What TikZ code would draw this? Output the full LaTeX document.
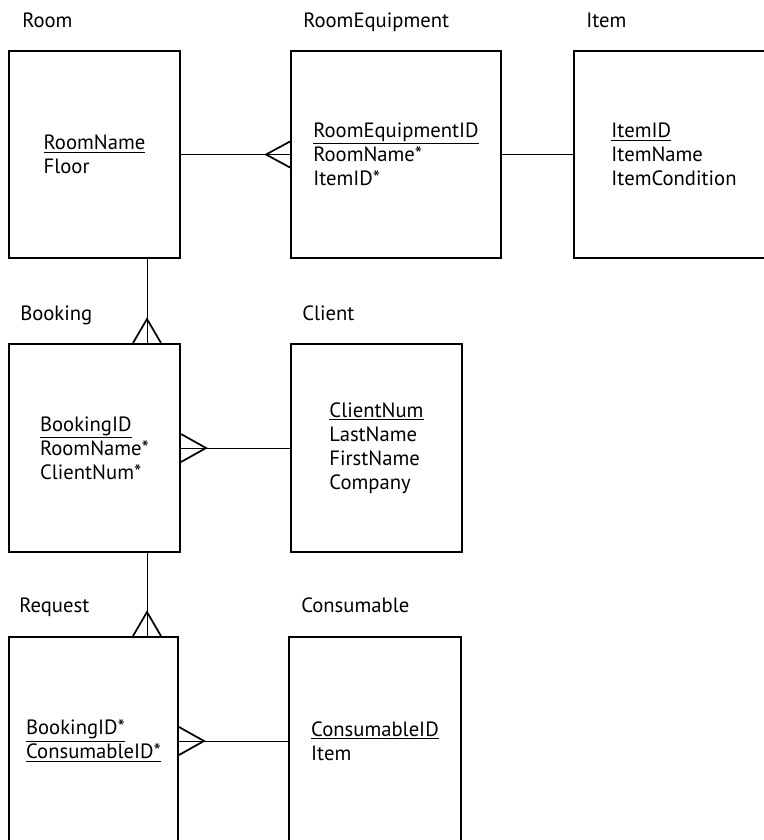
\documentclass[tikz,border=0pt]{standalone}
\usepackage{fontspec}
\setmainfont{PT Sans}
\usetikzlibrary{positioning,calc}

\begin{document}
\begin{tikzpicture}[
  x=0.75pt, y=-0.75pt,
  font=\fontsize{15.5}{18}\selectfont,
  entity/.style={draw, line width=1.5pt, align=left, inner sep=0pt,
                 anchor=north west},
  title/.style={anchor=base west, inner sep=0pt},
  link/.style={line width=0.6pt},
  crow/.style={line width=1.3pt}
]
\useasboundingbox[fill=white] (0,0) rectangle (764,840);

% Entities
\node[entity, minimum width=157.5pt, minimum height=155.25pt] (roomeq) at (290,50)
  {\underline{RoomEquipmentID}\\RoomName*\\ItemID*};
\node[entity, minimum width=128.25pt, minimum height=155.25pt] (room) at (8,50)
  {\underline{RoomName}\\Floor};
\node[entity, minimum width=150pt, minimum height=155.25pt] (item) at (573,50)
  {\underline{ItemID}\\ItemName\\ItemCondition};
\node[entity, minimum width=128.25pt, minimum height=156pt] (booking) at (8,343)
  {\underline{BookingID}\\RoomName*\\ClientNum*};
\node[entity, minimum width=128.25pt, minimum height=156pt] (client) at (290,343)
  {\underline{ClientNum}\\LastName\\FirstName\\Company};
\node[entity, minimum width=126.75pt, minimum height=156pt] (request) at (8,636)
  {\underline{BookingID*}\\\underline{ConsumableID*}};
\node[entity, minimum width=129pt, minimum height=156pt] (consumable) at (288,636)
  {\underline{ConsumableID}\\Item};

% Titles
\node[title] (troom) at ($(room.north west)+(14,-23)$) {Room};
\node[title] (troomeq) at ($(roomeq.north west)+(13,-23)$) {RoomEquipment};
\node[title] (titem) at ($(item.north west)+(13,-23)$) {Item};
\node[title] (tbooking) at ($(booking.north west)+(12,-23)$) {Booking};
\node[title] (tclient) at ($(client.north west)+(12,-23)$) {Client};
\node[title] (trequest) at ($(request.north west)+(11,-24)$) {Request};
\node[title] (tconsumable) at ($(consumable.north west)+(13,-24)$) {Consumable};

% Relationships
\draw[link] (room) -- (roomeq);
\draw[link] (roomeq) -- (item);
\draw[link] ($(room.south east)+(-34,0)$) -- ($(booking.north east)+(-34,0)$);
\draw[link] (booking) -- (client);
\draw[link] ($(booking.south east)+(-34,0)$) -- ($(request.north east)+(-32,0)$);
\draw[link] (request) -- (consumable);

% Crow's feet (many side)
\draw[crow] ($(roomeq.west)+(0,-13)$) -- ($(roomeq.west)+(-24,0)$) -- ($(roomeq.west)+(0,13)$);
\draw[crow] ($(booking.north east)+(-48,0)$) -- ($(booking.north east)+(-34,-24)$) -- ($(booking.north east)+(-20,0)$);
\draw[crow] ($(booking.east)+(0,-14)$) -- ($(booking.east)+(25,0)$) -- ($(booking.east)+(0,14)$);
\draw[crow] ($(request.north east)+(-46,0)$) -- ($(request.north east)+(-32,-24)$) -- ($(request.north east)+(-18,0)$);
\draw[crow] ($(request.east)+(0,-14)$) -- ($(request.east)+(25,0)$) -- ($(request.east)+(0,14)$);
\end{tikzpicture}
\end{document}
